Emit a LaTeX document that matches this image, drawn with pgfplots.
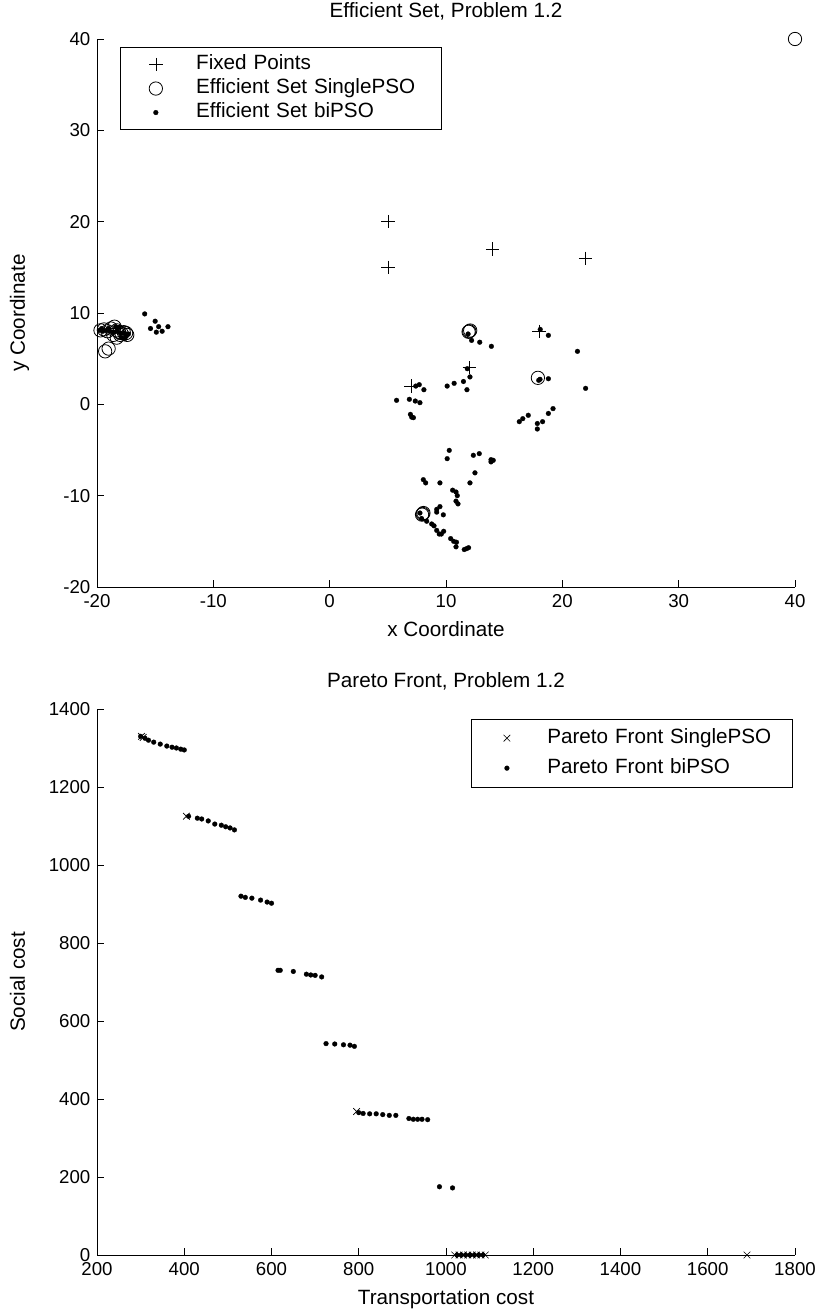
\documentclass[border=0pt]{standalone}
\usepackage{fontspec}
\setmainfont{Liberation Sans}
\usepackage{pgfplots}
\pgfplotsset{compat=1.18}

\pgfplotsset{
  matlab/.style={
    scale only axis,
    width=523.5pt,
    clip=false,
    axis x line*=bottom,
    axis y line*=left,
    axis line style={-, black, line width=0.6pt},
    tick align=inside,
    major tick length=5pt,
    tick style={black, line width=0.6pt},
    /pgf/number format/assume math mode=true,
    /pgf/number format/1000 sep={},
    tick label style={font=\fontsize{14}{16.8}\selectfont},
    yticklabel style={xshift=-1.5pt},
    xticklabel style={yshift=-2pt},
    every axis title/.style={at={(axis description cs:0.5,1)}, anchor=base, yshift=16pt},
    every axis x label/.style={at={(axis description cs:0.5,0)}, anchor=base, yshift=-37pt},
    every axis y label/.style={at={(axis description cs:-0.1032,0.5)}, anchor=base, rotate=90},
    legend cell align=left,
  },
  mleg/.style={legend image code/.code={%
      \draw[##1] plot coordinates {(16pt,0pt)};
      \path (0pt,0pt) (42.3pt,0pt);}},
  plusmark/.style={only marks, mark=+, mark size=5pt, black, mark options={line width=0.5pt}, mleg},
  circmark/.style={only marks, mark=o, mark size=5pt, black, mark options={line width=0.6pt}, mleg},
  dotmark/.style={only marks, mark=*, mark size=1.8pt, black, mark options={line width=0.2pt}, mleg},
  crossmark/.style={only marks, mark=x, mark size=3.5pt, black, mark options={line width=0.5pt}, mleg},
}

\begin{document}
\begin{tikzpicture}[font=\fontsize{15.5}{18.6}\selectfont]

% ---------------- Efficient set ----------------
\begin{axis}[matlab,
  at={(72.75pt,545.25pt)}, anchor=south west,
  height=411pt,
  xmin=-20, xmax=40, ymin=-20, ymax=40,
  xtick={-20,-10,0,10,20,30,40},
  xticklabels={-20,-10,0,10,20,30,40},
  ytick={-20,-10,0,10,20,30,40},
  yticklabels={-20,-10,0,10,20,30,40},
  title={Efficient Set, Problem 1.2},
  xlabel={x Coordinate},
  ylabel={y Coordinate},
  legend style={at={(0.033,0.985)}, anchor=north west, draw=black, line width=0.6pt,
    inner xsep=10.25pt, inner ysep=4.5pt, row sep=1.6pt,
    nodes={text height=11.1pt, text depth=3.3pt, inner xsep=3.67pt, inner ysep=1pt, text width=170pt}},
]
\addplot[plusmark] coordinates {
  (5,20) (5,15) (14,17) (22,16) (18,8) (12,4) (7,2)
};
\addlegendentry{Fixed Points}

\addplot[circmark] coordinates {
  (40,40)
  (12,8) (12.08,8.08) (11.94,7.94)
  (17.9,2.9)
  (8,-12) (8.06,-11.9) (7.94,-12.08)
  (-19.7,8.1) (-19.4,8.2) (-19.1,8.0) (-18.8,8.3) (-18.5,8.5) (-18.3,8.1)
  (-18.1,7.9) (-17.9,7.8) (-17.7,7.9) (-17.5,7.8) (-17.4,7.6) (-18.6,7.6)
  (-18.3,7.3) (-18.0,7.6) (-19.0,6.1) (-19.3,5.8)
};
\addlegendentry{Efficient Set SinglePSO}

\addplot[dotmark] coordinates {
  (-19.8,8.1) (-19.5,8.0) (-19.2,8.1) (-18.9,8.0) (-18.6,7.9) (-18.3,8.0)
  (-18.0,7.8) (-17.7,7.8) (-17.5,7.6) (-17.3,7.7) (-18.4,8.5) (-18.1,8.4)
  (-17.9,7.3) (-17.6,7.2) (-19.6,8.3) (-19.0,8.3)
  (-15.9,9.9) (-15.0,9.1) (-15.4,8.3) (-14.7,8.5) (-14.9,7.9) (-14.4,8.0) (-13.9,8.5)
  (11.9,7.7) (12.2,7.0) (12.9,6.8) (13.9,6.35)
  (18.1,8.2) (18.8,7.55) (21.3,5.8) (22.0,1.75)
  (11.83,3.9) (12.06,3.0) (11.5,2.5) (10.7,2.3) (10.1,2.0) (11.8,1.6)
  (7.4,2.0) (7.7,2.15) (8.1,1.6)
  (5.75,0.44) (6.85,0.55) (7.36,0.36) (7.76,0.18)
  (6.94,-1.1) (7.05,-1.4) (7.2,-1.46)
  (18.08,2.74) (17.97,2.63) (18.8,2.8)
  (19.2,-0.47) (18.8,-1.0) (17.07,-1.2) (16.6,-1.57) (16.3,-1.9)
  (18.3,-1.9) (17.85,-2.1) (17.85,-2.7)
  (10.28,-5.04) (10.1,-5.95) (12.35,-5.58) (12.86,-5.4)
  (13.87,-6.06) (14.06,-6.13) (13.87,-6.3)
  (12.49,-7.5) (12.06,-8.6)
  (8.05,-8.25) (8.25,-8.6) (9.48,-8.6)
  (10.57,-9.4) (10.86,-9.6) (10.97,-10.0) (10.86,-10.6) (11.03,-10.9)
  (9.48,-11.2) (9.2,-11.5) (9.2,-11.8) (9.77,-12.1)
  (7.76,-11.9) (7.9,-12.5) (8.34,-12.8) (8.77,-13.1) (8.97,-13.3)
  (9.2,-13.8) (9.42,-14.2) (9.6,-14.2) (9.8,-13.9)
  (10.4,-14.7) (10.66,-15.0) (10.9,-15.1) (10.86,-15.6)
  (11.57,-15.9) (11.77,-15.8) (11.94,-15.7)
};
\addlegendentry{Efficient Set biPSO}
\end{axis}

% ---------------- Pareto front ----------------
\begin{axis}[matlab,
  at={(72.75pt,44.25pt)}, anchor=south west,
  height=409.5pt,
  xmin=200, xmax=1800, ymin=0, ymax=1400,
  xtick={200,400,...,1800},
  ytick={0,200,...,1400},
  title={Pareto Front, Problem 1.2},
  xlabel={Transportation cost},
  ylabel={Social cost},
  legend style={at={(0.536,0.982)}, anchor=north west, draw=black, line width=0.6pt,
    inner xsep=10.25pt, inner ysep=6pt, row sep=6.1pt,
    nodes={text height=11.1pt, text depth=3.3pt, inner xsep=3.67pt, inner ysep=1pt, text width=170pt}},
]
\addplot[crossmark] coordinates {
  (302,1330) (306,1327) (405,1125) (795,368)
  (1020,0) (1030,0) (1040,0) (1050,0) (1060,0) (1070,0) (1080,0) (1090,0)
  (1690,0)
};
\addlegendentry{Pareto Front SinglePSO}

\addplot[dotmark] coordinates {
  (300,1330) (310,1325) (318,1320) (330,1315) (345,1310) (360,1305)
  (372,1302) (382,1300) (392,1297) (400,1295)
  (410,1125) (430,1120) (440,1118) (455,1113) (470,1105) (485,1102)
  (495,1098) (505,1095) (515,1090)
  (530,920) (540,917) (555,915) (575,910) (590,905) (600,902)
  (615,730) (620,730) (650,727) (680,720) (690,718) (700,717) (715,713)
  (725,542) (745,541) (765,539) (780,538) (790,535)
  (800,365) (810,363) (825,362) (840,362) (855,360) (870,358) (885,358)
  (915,350) (925,348) (935,348) (945,348) (958,347)
  (985,175) (1015,172)
  (1025,0) (1035,0) (1045,0) (1055,0) (1065,0) (1075,0) (1085,0)
};
\addlegendentry{Pareto Front biPSO}
\end{axis}

\pgfresetboundingbox
\useasboundingbox (0,0) rectangle (615pt,985.5pt);
\end{tikzpicture}
\end{document}
